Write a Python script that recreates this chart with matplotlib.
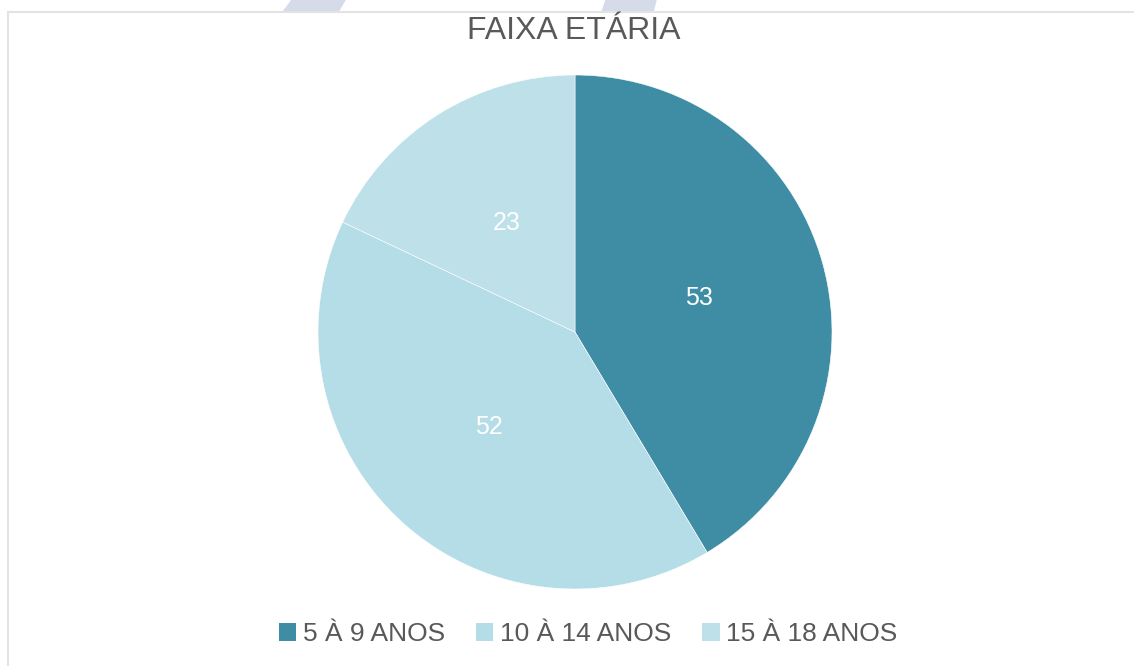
import matplotlib.pyplot as plt
from matplotlib.patches import Rectangle, Polygon, Patch

categories = ["5 À 9 ANOS", "10 À 14 ANOS", "15 À 18 ANOS"]
values = [53, 52, 23]
colors = ["#3e8da4", "#b5dde7", "#bde0e9"]

plt.rcParams['font.family'] = ['Liberation Sans', 'DejaVu Sans']

fig = plt.figure(figsize=(11.34, 6.66), dpi=100)
W, H = 1134, 666

# watermark shapes at the top
fig.patches.append(Polygon([(292 / W, 1), (345 / W, 1), (338 / W, 1 - 12 / H), (283 / W, 1 - 12 / H)],
                           transform=fig.transFigure, color="#d6dbe9", zorder=0))
fig.patches.append(Polygon([(606 / W, 1), (656 / W, 1), (653 / W, 1 - 12 / H), (602 / W, 1 - 12 / H)],
                           transform=fig.transFigure, color="#d6dbe9", zorder=0))
# chart border
fig.patches.append(Rectangle((8 / W, -0.01), 1.02, 1 - 12 / H + 0.01, transform=fig.transFigure,
                             fill=False, edgecolor="#e3e3e3", linewidth=1.5, zorder=1))

ax = fig.add_axes([318 / W, 77 / H, 514 / W, 514 / H])
wedges, texts = ax.pie(values, colors=colors, startangle=90, counterclock=False,
                       labels=[str(v) for v in values], labeldistance=0.5,
                       wedgeprops=dict(edgecolor="white", linewidth=0.4))
for t in texts:
    t.set_color("white")
    t.set_fontsize(18)
    t.set_ha("center")
    t.set_va("center")
ax.set_xlim(-1, 1)
ax.set_ylim(-1, 1)
ax.set_aspect("equal")

fig.text(574 / W, 1 - 31 / H, "FAIXA ETÁRIA", ha="center", va="center",
         fontsize=23, color="#595959")

handles = [Patch(facecolor=c, edgecolor="none") for c in colors]
fig.legend(handles, categories, ncol=3, loc="center", bbox_to_anchor=(588 / W, 1 - 634 / H),
           frameon=False, fontsize=19, labelcolor="#595959", handlelength=0.68, handleheight=0.68,
           handletextpad=0.25, columnspacing=1.15)

fig.savefig("out.png", dpi=100)
